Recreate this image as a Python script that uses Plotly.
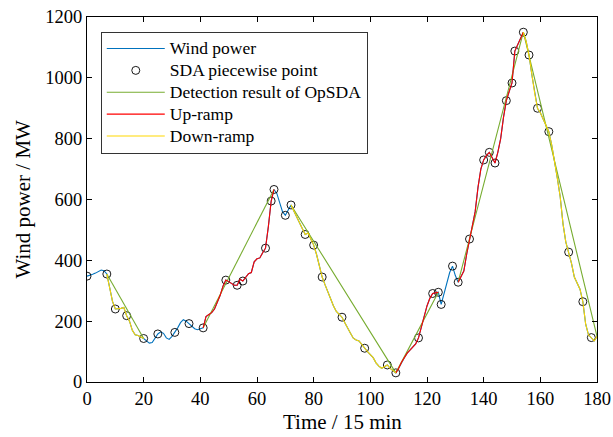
import plotly.graph_objects as go

time = list(range(181))
wind = [348, 350, 354, 358, 362, 368, 366, 355, 310, 265,
        240, 240, 242, 245, 218, 200, 170, 155, 153, 148,
        143, 135, 128, 130, 145, 158, 165, 160, 145, 140,
        150, 163, 178, 195, 205, 200, 192, 183, 175, 172,
        175, 178, 215, 222, 228, 240, 262, 285, 315, 335,
        330, 324, 318, 318, 338, 332, 345, 356, 360, 395,
        405, 408, 425, 440, 510, 595, 633, 620, 590, 560,
        548, 565, 582, 562, 542, 522, 503, 485, 490, 470,
        450, 420, 385, 345, 320, 295, 270, 250, 232, 222,
        213, 195, 176, 160, 144, 138, 135, 122, 111, 100,
        90, 80, 63, 52, 45, 50, 56, 45, 38, 30,
        45, 65, 80, 95, 105, 115, 125, 145, 180, 220,
        250, 275, 291, 293, 295, 255, 290, 330, 360, 381,
        350, 328, 345, 365, 420, 470, 510, 560, 640, 700,
        730, 745, 755, 735, 720, 755, 800, 870, 925, 955,
        983, 1088, 1110, 1130, 1150, 1120, 1075, 1010, 950, 900,
        885, 865, 845, 823, 780, 730, 670, 610, 520, 460,
        427, 390, 345, 325, 305, 264, 190, 155, 146, 135,
        150]

sda_x = [0, 7, 10, 14, 20, 25, 31, 36, 41, 49, 53, 55, 63, 65, 66, 70, 72, 77, 80, 83,
         90, 98, 106, 109, 117, 122, 124, 125, 129, 131, 135, 140, 142, 144, 148, 150,
         151, 154, 156, 159, 163, 170, 175, 178]
sda_y = [348, 355, 240, 218, 143, 158, 163, 192, 178, 335, 318, 332, 440, 595, 633, 548,
         582, 485, 450, 345, 213, 111, 56, 30, 145, 291, 295, 255, 381, 328, 470, 730,
         755, 720, 925, 983, 1088, 1150, 1075, 900, 823, 427, 264, 146]

det_x = [7, 20, None, 41, 66, None, 72, 109, 124, None, 131, 154, 180]
det_y = [355, 143, None, 178, 633, None, 582, 30, 295, None, 328, 1150, 150]

up_ranges = [(41, 66), (109, 124), (131, 154)]
down_ranges = [(7, 20), (72, 109), (154, 180)]

x_title = "Time / 15 min"
y_title = "Wind power / MW"
legend_names = ["Wind power", "SDA piecewise point", "Detection result of OpSDA",
                "Up-ramp", "Down-ramp"]


def segs(ranges):
    xs, ys = [], []
    for a, b in ranges:
        xs += time[a:b + 1] + [None]
        ys += wind[a:b + 1] + [None]
    return xs, ys


def lg(name):
    return '<span style="font-size:17.5px">' + name + '</span>'


up_x, up_y = segs(up_ranges)
dn_x, dn_y = segs(down_ranges)

FONT = "Times New Roman, Liberation Serif, serif"

fig = go.Figure()
fig.add_trace(go.Scatter(x=time, y=wind, mode="lines", name=lg(legend_names[0]),
                         line=dict(color="#0072BD", width=1.1)))
fig.add_trace(go.Scatter(x=sda_x, y=sda_y, mode="markers", name=lg(legend_names[1]),
                         marker=dict(symbol="circle-open", size=8, color="black",
                                     line=dict(width=0.9))))
fig.add_trace(go.Scatter(x=det_x, y=det_y, mode="lines", name=lg(legend_names[2]),
                         line=dict(color="#77AC30", width=1.1), connectgaps=False))
fig.add_trace(go.Scatter(x=up_x, y=up_y, mode="lines", name=lg(legend_names[3]),
                         line=dict(color="#FF0000", width=1.1), connectgaps=False))
fig.add_trace(go.Scatter(x=dn_x, y=dn_y, mode="lines", name=lg(legend_names[4]),
                         line=dict(color="#FFD700", width=1.1), connectgaps=False))

axis_common = dict(showline=True, linecolor="black", linewidth=1, mirror="ticks",
                   ticks="inside", ticklen=5, tickcolor="black", showgrid=False,
                   zeroline=False, automargin=False,
                   tickfont=dict(family=FONT, size=18.5, color="black"))

fig.update_layout(
    width=613, height=437,
    margin=dict(l=87, r=16, t=17, b=55),
    plot_bgcolor="white", paper_bgcolor="white",
    font=dict(family=FONT, size=18, color="black"),
    showlegend=True,
    legend=dict(x=0.027, y=0.96, xanchor="left", yanchor="top",
                bordercolor="#333333", borderwidth=1, bgcolor="white",
                font=dict(family=FONT, size=14.5, color="black"),
                itemwidth=58, tracegroupgap=0),
    xaxis=dict(range=[0, 180], tickvals=list(range(0, 181, 20)), **axis_common),
    yaxis=dict(range=[0, 1200], tickvals=list(range(0, 1201, 200)), **axis_common),
    annotations=[
        dict(text=x_title, xref="paper", yref="paper", x=0.5, y=0,
             xanchor="center", yanchor="middle", yshift=-40, showarrow=False,
             borderpad=0, font=dict(family=FONT, size=21, color="black")),
        dict(text=y_title, xref="paper", yref="paper", x=0, y=0.5,
             xanchor="center", yanchor="middle", xshift=-65, textangle=-90,
             showarrow=False, font=dict(family=FONT, size=21, color="black")),
    ],
)

fig.write_html("out.html")
